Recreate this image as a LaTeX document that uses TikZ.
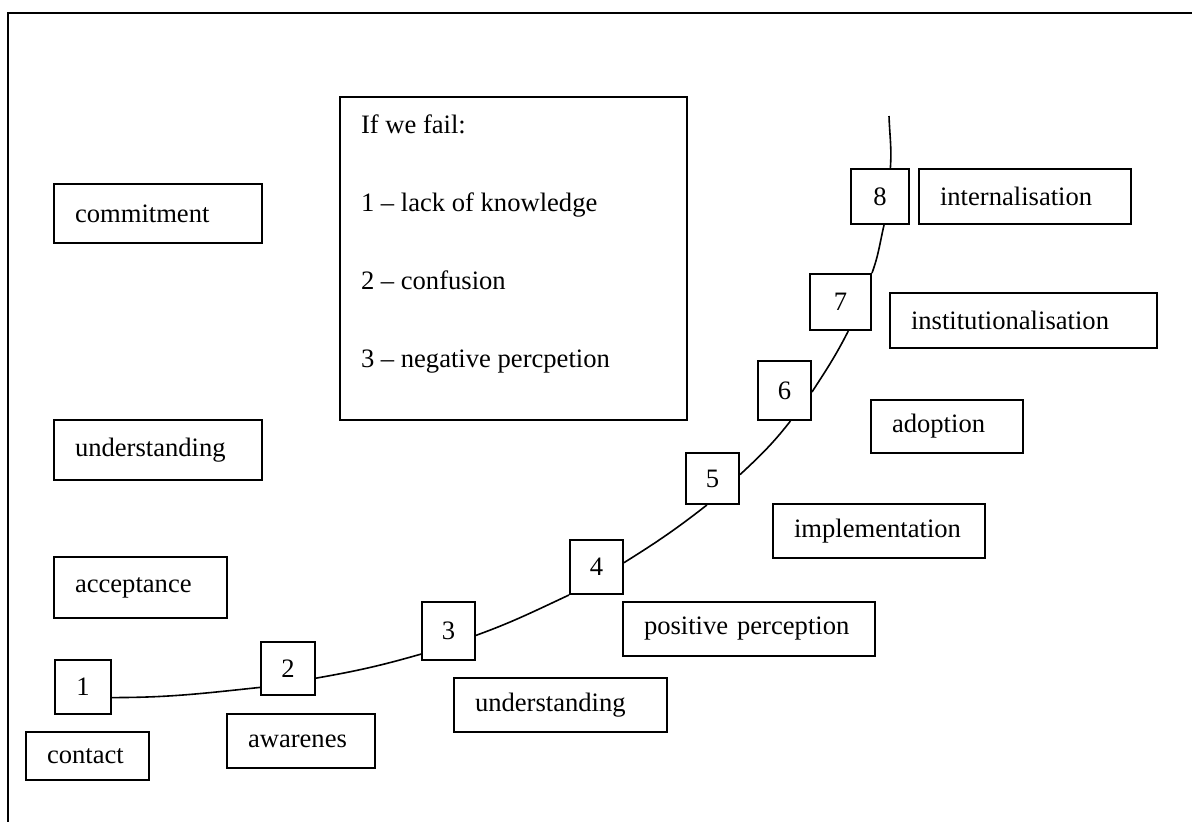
\documentclass[tikz,border=0pt]{standalone}
\usepackage{fontspec}
\setmainfont{Liberation Serif}
\newcommand{\mainsz}{\fontsize{13.3}{16}\selectfont}
\begin{document}
\begin{tikzpicture}[x=0.5pt,y=-0.5pt,
  tb/.style={draw, line width=1pt, fill=white, inner xsep=10.5pt, inner ysep=0pt, align=left, font=\mainsz},
  nb/.style={draw, line width=1pt, fill=white, inner sep=0pt, font=\mainsz},
  curve/.style={line width=0.8pt}]
\useasboundingbox (0,0) rectangle (1192,821);
\draw[line width=1pt] (8,830) -- (8,13) -- (1200,13);

% label boxes
\node[tb, text width=83pt, minimum height=29.5pt] (commit) at (158,213.5) {commitment};
\node[tb, text width=83pt, minimum height=30pt] (underL) at (158,450) {understanding};
\node[tb, text width=65.5pt, minimum height=30.5pt] (accept) at (140.5,587.5) {acceptance};
\node[tb, text width=40.5pt, minimum height=24pt] (contact) at (87.5,756) {contact};
\node[tb, text width=53pt, minimum height=27pt] (aware) at (301,741) {awarenes};
\node[tb, text width=85.5pt, minimum height=27pt] (underB) at (560.5,705) {understanding};
\node[tb, text width=105pt, minimum height=27pt] (posper) at (749,629) {\mbox{positive perception}};
\node[tb, text width=85pt, minimum height=27pt] (implem) at (879,531) {implementation};
\node[tb, text width=55pt, minimum height=26.5pt] (adopt) at (947,426.5) {adoption};
\node[tb, text width=112.5pt, minimum height=27.5pt] (instit) at (1023.5,320.5) {institutionalisation};
\node[tb, text width=85pt, minimum height=27.5pt] (intern) at (1025,196.5) {internalisation};

% failure box
\node[draw, line width=1pt, fill=white, inner sep=0pt, font=\mainsz] (fail) at (513.5,258.5)
  {\parbox[c][161.5pt][t]{173.5pt}{\setlength{\baselineskip}{39pt}\leftskip=10.5pt\parindent=0pt
   \vspace*{9pt}If we fail:\par
   1 – lack of knowledge\par
   2 – confusion\par
   3 – negative percpetion\par}};

% number boxes
\node[nb, minimum width=28pt, minimum height=27pt] (n1) at (83,687) {1};
\node[nb, minimum width=27pt, minimum height=26.5pt] (n2) at (288,668.5) {2};
\node[nb, minimum width=26.5pt, minimum height=29pt] (n3) at (448.5,631) {3};
\node[nb, minimum width=26.5pt, minimum height=27pt] (n4) at (596.5,567) {4};
\node[nb, minimum width=26.5pt, minimum height=25.5pt] (n5) at (712.5,478.5) {5};
\node[nb, minimum width=26.5pt, minimum height=29.5pt] (n6) at (784.5,390.5) {6};
\node[nb, minimum width=30.5pt, minimum height=28pt] (n7) at (840.5,302) {7};
\node[nb, minimum width=29pt, minimum height=27.5pt] (n8) at (880,196.5) {8};
\coordinate (top) at (889,116);

% curve
\draw[curve] (n1.-20) to[out=0,in=186] (n2.214);
\draw[curve] (n2.-19) to[out=10,in=196] (n3.-140);
\draw[curve] (n3.-9) to[out=20,in=205] (n4.south west);
\draw[curve] (n4.9) to[out=32,in=218] (n5.-102);
\draw[curve] (n5.8) to[out=43,in=232] (n6.-79);
\draw[curve] (n6.-3) to[out=57,in=243] (n7.-75);
\draw[curve] (n7.north east) to[out=70,in=257] (n8.-82);
\draw[curve] (n8.70) to[out=86,in=-88] (top);
\end{tikzpicture}
\end{document}
